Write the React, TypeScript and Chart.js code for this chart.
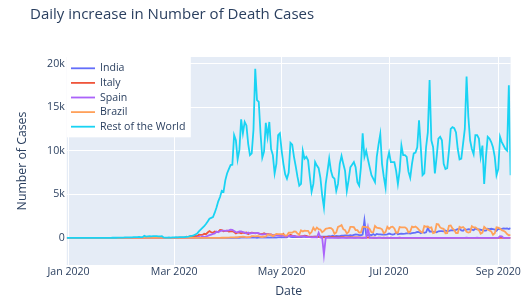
import React, { useEffect, useRef } from "react";
import { Chart, registerables } from "chart.js";

Chart.register(...registerables);

// x index 0 = 2019-12-31, index 252 = 2020-09-08 (one point per day)
const chartTitle = "Daily increase in Number of Death Cases";
const xAxisTitle = "Date";
const yAxisTitle = "Number of Cases";
const xTickIndex = [1, 61, 122, 183, 245];
const xTickLabels = ["Jan 2020", "Mar 2020", "May 2020", "Jul 2020", "Sep 2020"];
const yTickValues = [0, 5000, 10000, 15000, 20000];
const yTickLabels = ["0", "5k", "10k", "15k", "20k"];
const seriesNames = ["India", "Italy", "Spain", "Brazil", "Rest of the World"];

const india = [
  0,
  // Jan
  0,0,0,0,0,0,0,0,0,0, 0,0,0,0,0,0,0,0,0,0, 0,0,0,0,0,0,0,0,0,0,0,
  // Feb
  0,0,0,0,0,0,0,0,0,0, 0,0,0,0,0,0,0,0,0,0, 0,0,0,0,0,0,0,0,0,
  // Mar
  0,0,0,0,0,0,0,0,0,0, 0,0,1,0,1,0,1,0,1,1, 0,1,3,2,1,3,4,2,3,5,6,
  // Apr
  3,12,18,21,24,29,6,39,31,33, 41,39,29,45,37,39,23,33,33,36, 47,44,57,33,52,49,62,50,68,73,
  // May
  77,71,83,65,195,126,89,103,95,128, 111,97,122,136,100,120,120,157,134,148, 132,140,137,142,146,154,170,194,175,265,193,
  // Jun
  230,204,217,260,273,294,287,266,331,279, 357,396,386,325,311,380,2003,341,336,375, 306,445,312,465,418,407,384,410,380,418,
  // Jul
  507,434,379,442,613,425,467,482,475,487, 519,551,500,553,582,606,687,671,543,681, 587,648,1129,740,757,705,708,654,768,779,775,
  // Aug
  764,853,771,805,857,904,886,933,1007,1065, 871,834,1007,942,1000,996,944,876,1092,977, 983,943,912,836,848,1059,1021,1057,1021,972,819,
  // Sep
  1045,1026,1043,1096,1065,1089,1016,1133,
];

const italy = [
  0,
  // Jan
  0,0,0,0,0,0,0,0,0,0, 0,0,0,0,0,0,0,0,0,0, 0,0,0,0,0,0,0,0,0,0,0,
  // Feb
  0,0,0,0,0,0,0,0,0,0, 0,0,0,0,0,0,0,0,0,0, 1,1,1,4,3,2,5,4,8,
  // Mar
  5,18,27,28,41,49,36,133,97,168, 196,189,250,175,368,349,345,475,427,627, 793,651,601,743,683,712,919,889,756,812,837,
  // Apr
  727,760,766,681,525,636,604,542,610,570, 619,431,566,602,578,525,575,482,433,454, 534,437,464,420,415,260,333,382,323,285,
  // May
  269,474,174,195,236,369,274,243,194,165, 179,172,195,262,242,153,145,99,162,161, 156,130,119,50,92,78,117,70,87,111,75,
  // Jun
  60,55,71,88,85,72,53,65,79,71, 53,56,78,70,44,26,34,43,66,47, 49,24,23,18,30,30,8,22,6,23,
  // Jul
  21,30,15,21,7,8,30,15,12,12, 7,12,7,13,17,20,11,13,9,12, 3,15,9,10,5,5,5,11,6,11,9,
  // Aug
  3,7,5,4,10,6,6,4,4,4, 6,10,6,6,3,4,4,7,4,7, 3,6,2,4,7,4,13,9,5,1,4,
  // Sep
  6,8,6,10,11,10,7,7,
];

const spain = [
  0,
  // Jan
  0,0,0,0,0,0,0,0,0,0, 0,0,0,0,0,0,0,0,0,0, 0,0,0,0,0,0,0,0,0,0,0,
  // Feb
  0,0,0,0,0,0,0,0,0,0, 0,0,0,0,0,0,0,0,0,0, 0,0,0,0,0,0,0,0,0,
  // Mar
  0,0,1,0,1,2,3,5,7,11, 8,12,36,60,152,47,182,107,169,235, 324,394,462,514,738,655,769,832,838,812,849,
  // Apr
  864,950,932,809,674,637,743,757,683,605, 510,619,517,567,557,551,585,565,410,399, 430,435,440,367,378,288,331,301,325,268,
  // May
  281,276,164,185,244,213,229,213,179,143, 123,176,184,217,138,102,87,59,83,95, 53,600,56,70,-1918,0,1,0,2,0,0,
  // Jun
  0,0,0,0,0,0,0,0,0,0, 0,0,0,0,0,0,0,0,1179,0, 0,0,2,1,0,0,0,0,0,3,
  // Jul
  3,0,0,0,0,0,2,1,4,0, 0,0,2,0,1,5,0,0,0,1, 2,0,0,0,0,0,0,2,3,0,0,
  // Aug
  0,0,0,0,8,19,8,0,0,0, 0,12,0,28,0,0,0,16,3,26, 0,0,0,0,0,0,0,0,0,0,0,
  // Sep
  0,200,180,0,0,0,0,0,
];

const brazil = [
  0,
  // Jan
  0,0,0,0,0,0,0,0,0,0, 0,0,0,0,0,0,0,0,0,0, 0,0,0,0,0,0,0,0,0,0,0,
  // Feb
  0,0,0,0,0,0,0,0,0,0, 0,0,0,0,0,0,0,0,0,0, 0,0,0,0,0,0,0,0,0,
  // Mar
  0,0,0,0,0,0,0,0,0,0, 0,0,0,0,0,0,1,3,1,4, 7,7,9,12,11,18,15,22,22,23,42,
  // Apr
  40,58,60,73,54,67,114,133,141,115, 68,99,105,204,204,188,217,206,115,113, 166,165,407,357,346,189,338,474,449,435,
  // May
  428,421,275,296,600,615,610,751,730,496, 396,881,749,844,824,816,485,674,1179,888, 1188,1001,965,653,807,1039,1086,1156,1124,956,480,
  // Jun
  623,1262,1349,1473,1005,904,525,679,1272,1274, 1239,909,892,612,627,1282,1269,1238,1206,1022, 641,654,1374,1185,1141,1109,990,552,692,1280,
  // Jul
  1038,1252,1290,1091,602,620,1254,1223,1220,1214, 1071,631,733,1300,1233,1322,1163,921,716,632, 1367,1284,1311,1156,1211,555,627,1595,1554,1212,1088,
  // Aug
  1048,541,561,1394,1437,1079,905,572,572,1274, 1175,1262,1060,709,620,684,1352,1212,1204,1054, 892,494,620,1271,1085,984,855,758,366,553,1215,
  // Sep
  1184,1075,888,814,682,447,310,320,
];

const restOfWorld = [
  0,
  // Jan
  0,0,0,0,0,0,0,0,0,0, 1,0,0,0,0,0,1,0,1,0, 3,11,8,16,15,24,26,26,38,43,46,
  // Feb
  45,57,64,66,73,73,86,89,97,108, 97,98,254,150,190,200,190,200,210,200, 190,180,200,60,50,50,60,50,60,
  // Mar
  70,80,70,90,90,100,110,130,150,200, 250,300,400,500,750,950,1150,1350,1600,1900, 2200,2300,2400,2900,3500,4200,4700,5400,5300,6600,7400,
  // Apr
  7900,8350,8400,11800,11200,9000,10100,13600,12000,13300, 12900,10800,9500,9700,12400,19400,15800,15600,12000,9200, 9900,13200,11600,13300,10200,9500,7400,8500,11800,12000,
  // May
  10000,8500,7300,6800,7500,10900,10700,9300,8200,7000, 6000,6200,10000,9100,9300,8900,7000,5300,6200,8700, 8300,8000,6900,4900,3500,6200,7600,9100,7700,7000,6800,
  // Jun
  5400,6200,8500,9400,8500,7700,5400,6600,8100,8400, 8700,8100,6400,6000,8100,12000,9300,10000,9000,8100, 7200,6800,6400,9300,10700,11900,8500,7000,5800,8900,
  // Jul
  9800,8700,8700,8700,7700,6200,7700,10600,9500,9500, 9300,7600,6900,8500,9700,9800,10400,13500,10400,7200, 7400,10400,12100,18100,11200,10400,7400,9300,11400,11600,11200,
  // Aug
  8500,7900,8000,10000,12500,12700,12600,12100,10200,9000, 9100,10800,12500,18500,13900,11200,10200,9600,11800,11800, 11400,9300,10600,6200,9300,11600,11400,11000,10400,9300,7200,
  // Sep
  7900,11600,11000,10600,10200,10000,17500,7200,
];

const seriesColors = ["#636efa", "#EF553B", "#ab63fa", "#FFA15A", "#19d3f3"];
const FONT = "'Open Sans', sans-serif";
const TEXT = "#2a3f5f";

export default function App() {
  const ref = useRef<HTMLCanvasElement>(null);

  useEffect(() => {
    const canvas = ref.current;
    if (!canvas) return;
    const series = [india, italy, spain, brazil, restOfWorld];
    const datasets = seriesNames.map((name, k) => ({
      label: name,
      data: series[k].map((v, i) => ({ x: i, y: v })),
      borderColor: seriesColors[k],
      backgroundColor: seriesColors[k],
      borderWidth: 1.8,
      pointRadius: 0,
      pointHoverRadius: 0,
      tension: 0,
      fill: false,
      order: seriesNames.length - k,
    }));

    const bgPlugin = {
      id: "plotBg",
      beforeDraw(c: any) {
        const { ctx, chartArea: a } = c;
        ctx.save();
        ctx.fillStyle = "#ffffff";
        ctx.fillRect(0, 0, c.width, c.height);
        ctx.fillStyle = "#E5ECF6";
        ctx.fillRect(a.left, a.top, a.right - a.left, a.bottom - a.top);
        ctx.restore();
      },
    };

    const legendPlugin = {
      id: "plotLegend",
      afterDatasetsDraw(c: any) {
        const { ctx, chartArea: a } = c;
        ctx.save();
        ctx.fillStyle = "#ffffff";
        ctx.fillRect(a.left, a.top, 124, 80.3);
        ctx.font = `10.6px ${FONT}`;
        ctx.textBaseline = "middle";
        ctx.textAlign = "left";
        c.data.datasets.forEach((ds: any, k: number) => {
          const y = a.top + 11.3 + k * 14.6;
          ctx.strokeStyle = ds.borderColor;
          ctx.lineWidth = 1.8;
          ctx.beginPath();
          ctx.moveTo(a.left + 4.2, y);
          ctx.lineTo(a.left + 28.2, y);
          ctx.stroke();
          ctx.fillStyle = TEXT;
          ctx.fillText(ds.label, a.left + 33.2, y);
        });
        ctx.restore();
      },
    };

    const titlePlugin = {
      id: "plotTitle",
      afterDraw(c: any) {
        const { ctx } = c;
        ctx.save();
        ctx.font = `15px ${FONT}`;
        ctx.fillStyle = TEXT;
        ctx.textAlign = "left";
        ctx.textBaseline = "alphabetic";
        ctx.fillText(chartTitle, 30, 18.5);
        ctx.restore();
      },
    };

    const chart = new Chart(canvas, {
      type: "line",
      data: { datasets: datasets as any },
      options: {
        animation: false,
        responsive: false,
        maintainAspectRatio: false,
        devicePixelRatio: 1,
        layout: { padding: { top: 57, right: 18.4, bottom: 0, left: 0 } },
        plugins: {
          legend: { display: false },
          title: { display: false },
          tooltip: { enabled: false },
        },
        scales: {
          x: {
            type: "linear",
            min: 0,
            max: 252,
            afterFit: (s: any) => {
              s.height = 36;
            },
            afterBuildTicks: (s: any) => {
              s.ticks = xTickIndex.map((v) => ({ value: v }));
            },
            ticks: {
              autoSkip: false,
              maxRotation: 0,
              padding: 1,
              color: TEXT,
              font: { family: FONT, size: 10.6 },
              callback: (_v: any, i: number) => xTickLabels[i],
            },
            grid: { color: "#ffffff", lineWidth: 1, drawTicks: false },
            border: { display: false },
            title: {
              display: true,
              text: xAxisTitle,
              color: TEXT,
              font: { family: FONT, size: 12.3 },
              padding: { top: 0, bottom: 1.9 },
            },
          },
          y: {
            type: "linear",
            min: -3100,
            max: 20750,
            afterFit: (s: any) => {
              s.width = 66.8;
            },
            afterBuildTicks: (s: any) => {
              s.ticks = yTickValues.map((v) => ({ value: v }));
            },
            ticks: {
              padding: 2,
              color: TEXT,
              font: { family: FONT, size: 10.6 },
              callback: (_v: any, i: number) => yTickLabels[i],
            },
            grid: {
              color: "#ffffff",
              lineWidth: (ctx: any) => (ctx.tick && ctx.tick.value === 0 ? 2 : 1),
              drawTicks: false,
            },
            border: { display: false },
            title: {
              display: true,
              text: yAxisTitle,
              color: TEXT,
              font: { family: FONT, size: 12.3 },
              padding: { top: 15.6, bottom: 0 },
            },
          },
        },
      },
      plugins: [bgPlugin, legendPlugin, titlePlugin],
    });
    return () => chart.destroy();
  }, []);

  return (
    <div style={{ position: "absolute", left: 0, top: 0, width: 529, height: 301, background: "#fff" }}>
      <canvas ref={ref} width={529} height={301} style={{ display: "block", width: 529, height: 301 }} />
    </div>
  );
}
